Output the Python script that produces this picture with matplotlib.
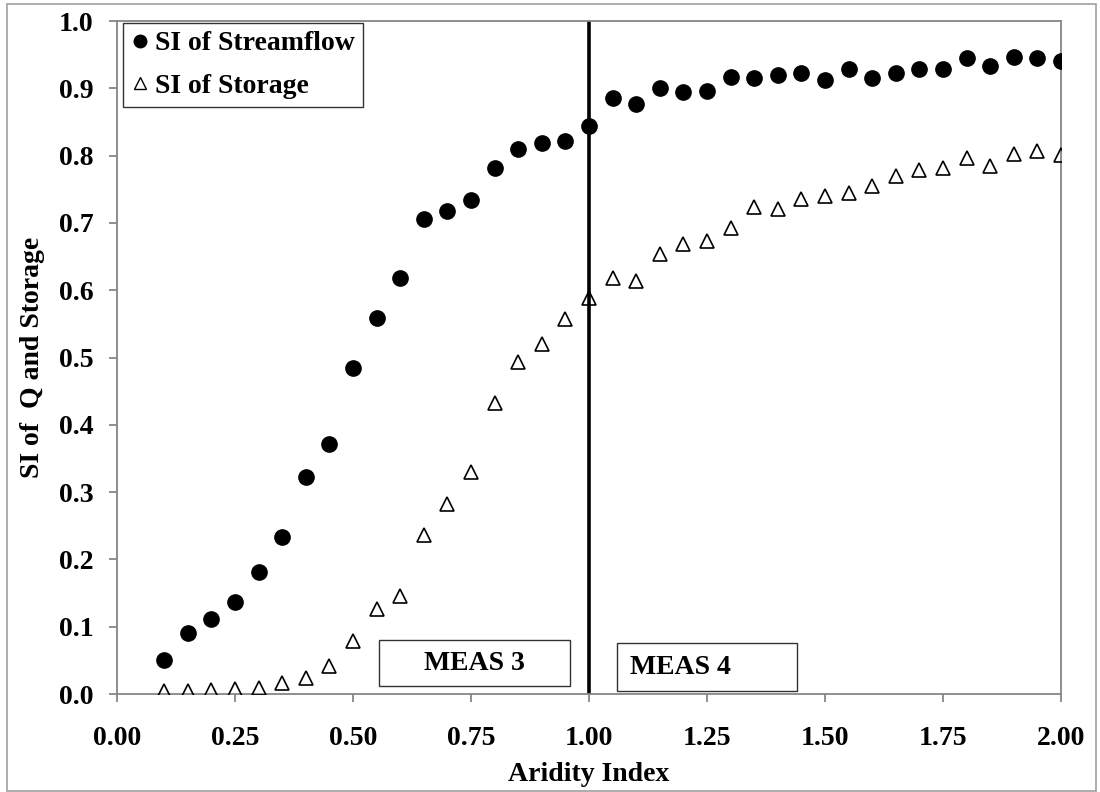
import matplotlib
matplotlib.use('Agg')
import matplotlib.pyplot as plt
from matplotlib.lines import Line2D
from matplotlib.patches import Rectangle

# ---------------- data ----------------
aridity = [0.10, 0.15, 0.20, 0.25, 0.30, 0.35, 0.40, 0.45, 0.50, 0.55,
           0.60, 0.65, 0.70, 0.75, 0.80, 0.85, 0.90, 0.95, 1.00, 1.05,
           1.10, 1.15, 1.20, 1.25, 1.30, 1.35, 1.40, 1.45, 1.50, 1.55,
           1.60, 1.65, 1.70, 1.75, 1.80, 1.85, 1.90, 1.95, 2.00]

si_streamflow = [0.050, 0.090, 0.112, 0.137, 0.182, 0.234, 0.322, 0.372, 0.484, 0.558,
                 0.618, 0.706, 0.717, 0.734, 0.782, 0.810, 0.818, 0.821, 0.844, 0.886,
                 0.876, 0.901, 0.895, 0.896, 0.917, 0.916, 0.920, 0.923, 0.913, 0.928,
                 0.915, 0.922, 0.928, 0.928, 0.945, 0.933, 0.947, 0.945, 0.940]

si_storage = [0.004, 0.004, 0.006, 0.008, 0.009, 0.016, 0.024, 0.042, 0.079, 0.126,
              0.145, 0.236, 0.283, 0.330, 0.433, 0.493, 0.520, 0.557, 0.589, 0.618,
              0.613, 0.654, 0.668, 0.673, 0.693, 0.724, 0.721, 0.735, 0.740, 0.745,
              0.755, 0.770, 0.778, 0.782, 0.796, 0.784, 0.803, 0.807, 0.801]

x_ticks = [0.00, 0.25, 0.50, 0.75, 1.00, 1.25, 1.50, 1.75, 2.00]
y_ticks = [0.0, 0.1, 0.2, 0.3, 0.4, 0.5, 0.6, 0.7, 0.8, 0.9, 1.0]
threshold = 1.0

series_labels = ["SI of Streamflow", "SI of Storage"]
region_labels = ["MEAS 3", "MEAS 4"]
x_label = "Aridity Index"
y_label = "SI of  Q and Storage"

# ---------------- style ----------------
plt.rcParams['font.family'] = ['Liberation Serif', 'DejaVu Serif']
plt.rcParams['font.weight'] = 'bold'
FS = 20
GRAY = '#868686'

fig = plt.figure(figsize=(11, 7.92), dpi=100)
ax = fig.add_axes([117 / 1100, 1 - 694 / 792, (1061 - 117) / 1100, (694 - 21) / 792])

ax.axvline(threshold, color='black', lw=2.6, zorder=2)

ax.plot(aridity, si_streamflow, linestyle='none', marker='o', ms=11,
        color='black', zorder=3)
ax.plot(aridity, si_storage, linestyle='none', marker='^', ms=10,
        markerfacecolor='none', markeredgecolor='black', mew=1.2, zorder=3)

ax.set_xlim(0, 2.0)
ax.set_ylim(0, 1.0)
ax.set_xticks(x_ticks)
ax.set_xticklabels([f"{v:.2f}" for v in x_ticks])
ax.set_yticks(y_ticks)
ax.set_yticklabels([f"{v:.1f}" for v in y_ticks])

for s in ax.spines.values():
    s.set_color(GRAY)
    s.set_linewidth(1.3)
ax.tick_params(axis='both', direction='out', length=6, width=1.3, color=GRAY,
               labelsize=FS)
ax.tick_params(axis='x', pad=17)
ax.tick_params(axis='y', pad=11)
for lab in ax.get_xticklabels() + ax.get_yticklabels():
    lab.set_fontweight('bold')

ax.set_xlabel(x_label, fontsize=FS, fontweight='bold', labelpad=8)
ax.set_ylabel(y_label, fontsize=FS, fontweight='bold', labelpad=10)

# region boxes
ax.add_patch(Rectangle((0.555, 0.012), 0.405, 0.068, fill=False,
                       edgecolor='#333333', lw=1.0, zorder=4))
ax.text(0.7575, 0.046, region_labels[0], ha='center', va='center',
        fontsize=FS, fontweight='bold', zorder=5)
ax.add_patch(Rectangle((1.059, 0.004), 0.382, 0.072, fill=False,
                       edgecolor='#333333', lw=1.0, zorder=4))
ax.text(1.087, 0.040, region_labels[1], ha='left', va='center',
        fontsize=FS, fontweight='bold', zorder=5)

# legend
handles = [
    Line2D([], [], linestyle='none', marker='o', ms=9, color='black'),
    Line2D([], [], linestyle='none', marker='^', ms=8, markerfacecolor='none',
           markeredgecolor='black', mew=1.0),
]
leg = ax.legend(handles, series_labels, loc='upper left',
                bbox_to_anchor=(0.006, 0.997), borderaxespad=0,
                prop={'family': 'Liberation Serif', 'weight': 'bold', 'size': FS},
                frameon=True, fancybox=False, edgecolor='black',
                handlelength=0.7, handletextpad=0.2, borderpad=0.28,
                labelspacing=0.62)
leg.get_frame().set_linewidth(1.0)
leg.set_zorder(6)

# outer figure border
fig.patches.append(Rectangle((7 / 1100, 1 / 792), (1096 - 7) / 1100, (791 - 4) / 792,
                             transform=fig.transFigure, fill=False,
                             edgecolor='#a0a0a0', lw=1.2))

fig.savefig('out.png', dpi=100)
